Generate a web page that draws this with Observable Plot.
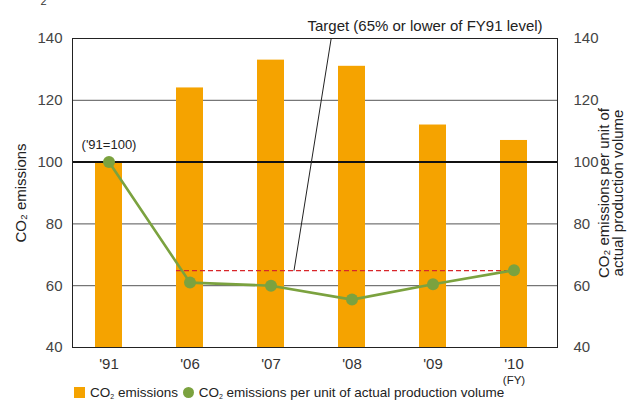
<!DOCTYPE html>
<html><head><meta charset="utf-8">
<script src="https://cdn.jsdelivr.net/npm/d3@7"></script>
<script src="https://cdn.jsdelivr.net/npm/@observablehq/plot@0.6"></script>
<style>
body{margin:0;background:#fff;font-family:"Liberation Sans",Arial,sans-serif;}
#wrap{position:relative;width:627px;height:402px;overflow:hidden;}
#chart{position:absolute;left:0;top:0;}
#legend{position:absolute;left:74px;top:386px;font-size:13.5px;color:#222;white-space:nowrap;line-height:14px;}
#legend span.sw{display:inline-block;width:11px;height:11px;vertical-align:-1px;margin-right:5px;}
#legend sub{font-size:7px;vertical-align:-2px;}
</style></head><body><div id="wrap"><div id="chart"></div>
<div id="legend"><span class="sw" style="background:#F5A300"></span>CO<sub>2</sub> emissions <span class="sw" style="background:#7BA23F;border-radius:50%;margin-left:1px"></span>CO<sub>2</sub> emissions per unit of actual production volume</div></div>
<script>
const years = ["'91","'06","'07","'08","'09","'10"];
const emissions = [100,124,133,131,112,107];
const intensity = [100,61,60,55.5,60.5,65];
const target = 64.7;
const gridValues = [60,80,120,140];
const baseValue = 100;
const yTicks = [40,60,80,100,120,140];
const yDomain = [40,140];

const data = years.map((y,i)=>({year:y, emissions:emissions[i], intensity:intensity[i]}));
const orange = "#F5A300", green = "#7BA23F";

function targetMarks(index, {x, y}) {
  const bw = typeof x.bandwidth === "function" ? x.bandwidth() : x.bandwidth;
  const step = x(years[1]) - x(years[0]);
  const g = d3.create("svg:g");
  g.append("line")
    .attr("x1", x("'06")).attr("x2", x("'10") + bw/2 + 6)
    .attr("y1", y(target)).attr("y2", y(target))
    .attr("stroke", "#d8262a").attr("stroke-width", 1.2).attr("stroke-dasharray", "5,3");
  g.append("line")
    .attr("x1", x("'07") + bw/2 + 0.29*step).attr("y1", y(target))
    .attr("x2", x("'07") + bw/2 + 0.75*step).attr("y2", y(yDomain[1]))
    .attr("stroke", "#222").attr("stroke-width", 1);
  return g.node();
}

const chart = Plot.plot({
  width: 627, height: 402,
  marginLeft: 72, marginRight: 70, marginTop: 38, marginBottom: 55,
  style: {fontFamily: "Liberation Sans, Arial, sans-serif", color: "#333", background: "transparent"},
  x: {type: "band", domain: years, paddingInner: 0.67, paddingOuter: 0.307, align: 0.44, label: null},
  y: {domain: yDomain, label: null},
  marks: [
    Plot.ruleY(gridValues, {stroke: "#555", strokeWidth: 1}),
    Plot.barY(data, {x: "year", y1: yDomain[0], y2: "emissions", fill: orange}),
    Plot.ruleY([baseValue], {stroke: "#111", strokeWidth: 2}),
    Plot.frame({stroke: "#222", strokeWidth: 1}),
    targetMarks,
    Plot.line(data, {x: "year", y: "intensity", stroke: green, strokeWidth: 2.6}),
    Plot.dot(data, {x: "year", y: "intensity", fill: green, r: 6}),
    Plot.axisX({tickSize: 0, tickPadding: 11, fontSize: 15, fill: "#333"}),
    Plot.axisY({anchor: "left", ticks: yTicks, tickSize: 0, tickPadding: 10, fontSize: 15, fill: "#444", label: null}),
    Plot.axisY({anchor: "right", ticks: yTicks, tickSize: 0, tickPadding: 16, fontSize: 15, fill: "#444", label: null}),
    Plot.text(["('91=100)"], {x: () => years[0], y: () => baseValue, dy: -17, fontSize: 13, fill: "#222"}),
    Plot.text(["(FY)"], {x: () => years[5], frameAnchor: "bottom", dy: 36, fontSize: 11.5, fill: "#222"}),
    Plot.text(["Target (65% or lower of FY91 level)"], {frameAnchor: "top", dx: 110, dy: -18, fontSize: 15, fill: "#222"}),
    Plot.text(["CO₂ emissions"], {frameAnchor: "left", textAnchor: "middle", rotate: -90, dx: -51, fontSize: 15, fill: "#222"}),
    Plot.text(["CO₂ emissions per unit of\nactual production volume"], {frameAnchor: "right", textAnchor: "middle", rotate: -90, dx: 54, fontSize: 15, lineHeight: 0.95, fill: "#222"}),
    Plot.text(["2"], {frameAnchor: "top-left", dx: -32, dy: -34, lineAnchor: "bottom", fontSize: 11, fill: "#333"})
  ]
});
document.getElementById("chart").appendChild(chart);
</script></body></html>
